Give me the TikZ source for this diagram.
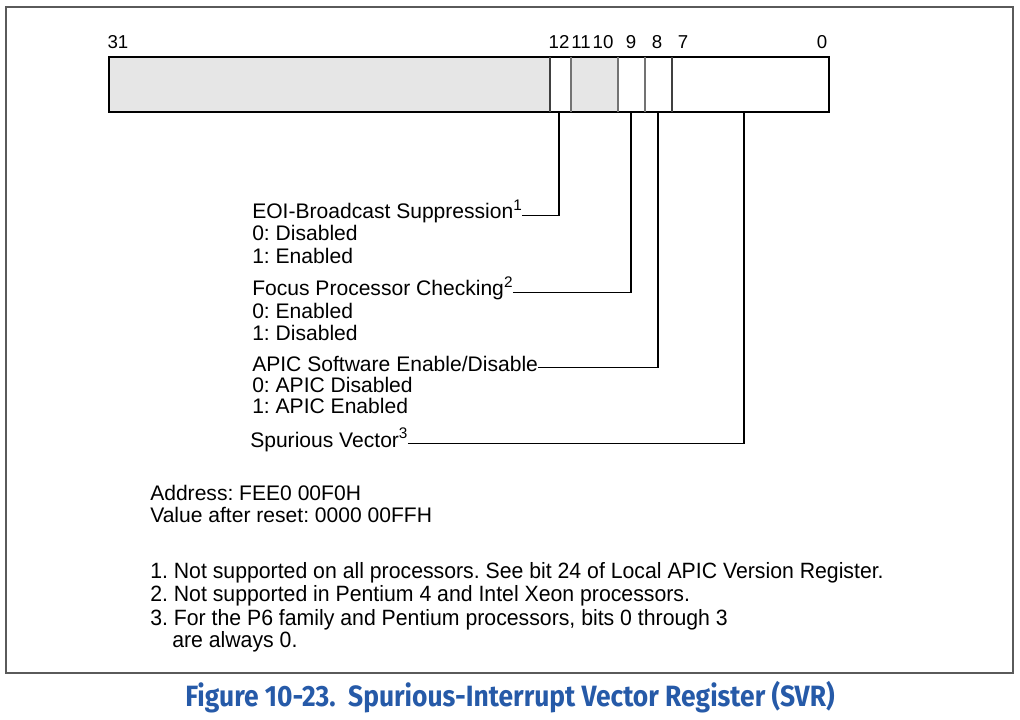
\documentclass[tikz,border=0pt]{standalone}
\usepackage{fontspec}
\setmainfont{Liberation Sans}
\newfontfamily\narrowfont[FakeStretch=0.96]{Liberation Sans}
\newfontfamily\capfont[FakeStretch=0.90]{Fira Sans}
\definecolor{capblue}{RGB}{38,90,168}
\definecolor{regshade}{RGB}{230,230,230}
\definecolor{framegray}{RGB}{90,90,90}
\newcommand{\supmark}[1]{\raisebox{0.75ex}{\fontsize{11.5}{12}\selectfont #1}}
\frenchspacing
\begin{document}
\frenchspacing
\begin{tikzpicture}[x=0.75pt,y=-0.75pt,
  lbl/.style={anchor=base west,inner sep=0pt,font=\fontsize{15.8}{16.5}\selectfont},
  fnote/.style={anchor=base west,inner sep=0pt,font=\narrowfont\fontsize{16.6}{17}\selectfont},
  bitno/.style={anchor=base,inner sep=0pt,font=\fontsize{14}{15}\selectfont},
  leader/.style={draw=black,line width=0.9pt},
  divider/.style={draw=black!75,line width=0.8pt}]
\useasboundingbox (0,0) rectangle (1020,720);
% frame
\draw[framegray,line width=1.2pt] (6,7) rectangle (1013,673);
% register
\fill[regshade] (109,57) rectangle (550,112);
\fill[regshade] (571,57) rectangle (618,112);
\draw[black,line width=0.9pt] (109,57) rectangle (829,112);
\draw[divider] (550,57) -- (550,112);
\draw[divider,draw=black!55] (571,57) -- (571,112);
\draw[divider,draw=black!55] (618,57) -- (618,112);
\draw[divider,draw=black!55] (645,57) -- (645,112);
\draw[divider] (672,57) -- (672,112);
\coordinate (b12) at (559,112);
\coordinate (b9) at (631,112);
\coordinate (b8) at (658,112);
\coordinate (b70) at (744,112);
% bit numbers
\node[bitno] (n31) at (118,49) {31};
\node[bitno] (n12) at (559,49) {12};
\node[bitno] (n11) at (581,49) {11};
\node[bitno] (n10) at (603,49) {10};
\node[bitno] (n9) at (631,49) {9};
\node[bitno] (n8) at (657,49) {8};
\node[bitno] (n7) at (683,49) {7};
\node[bitno] (n0) at (822,49) {0};
% field labels
\node[lbl] (eoi) at (252,219) {EOI-Broadcast Suppression\supmark{1}};
\node[lbl] (eoi0) at (252,241) {0: Disabled};
\node[lbl] (eoi1) at (252,263) {1: Enabled};
\node[lbl] (fpc) at (252,296) {Focus Processor Checking\supmark{2}};
\node[lbl] (fpc0) at (252,318) {0: Enabled};
\node[lbl] (fpc1) at (252,340) {1: Disabled};
\node[lbl] (ase) at (252,371) {APIC Software Enable/Disable};
\node[lbl] (ase0) at (252,392) {0: APIC Disabled};
\node[lbl] (ase1) at (252,413) {1: APIC Enabled};
\node[lbl] (sv) at (250,447) {Spurious Vector\supmark{3}};
% leaders
\draw[leader] (eoi.mid east) -- (eoi.mid east -| b12) -- (b12);
\draw[leader] (fpc.mid east) -- (fpc.mid east -| b9) -- (b9);
\draw[leader] (ase.mid east) -- (ase.mid east -| b8) -- (b8);
\draw[leader] (sv.mid east) -- (sv.mid east -| b70) -- (b70);
% address
\node[lbl] (addr) at (150,500) {Address: FEE0 00F0H};
\node[lbl] (rst) at (150,522) {Value after reset: 0000 00FFH};
% footnotes
\node[fnote] (f1) at (150,578) {1. Not supported on all processors. See bit 24 of Local APIC Version Register.};
\node[fnote] (f2) at (150,601) {2. Not supported in Pentium 4 and Intel Xeon processors.};
\node[fnote] (f3) at (150,625) {3. For the P6 family and Pentium processors, bits 0 through 3};
\node[fnote] (f4) at (172,647) {are always 0.};
% caption
\node[anchor=base,inner sep=0pt,text=capblue,font=\capfont\bfseries\fontsize{22}{24}\selectfont] (cap) at (510,706) {Figure 10-23.\ \ Spurious-Interrupt Vector Register (SVR)};
\end{tikzpicture}
\end{document}
